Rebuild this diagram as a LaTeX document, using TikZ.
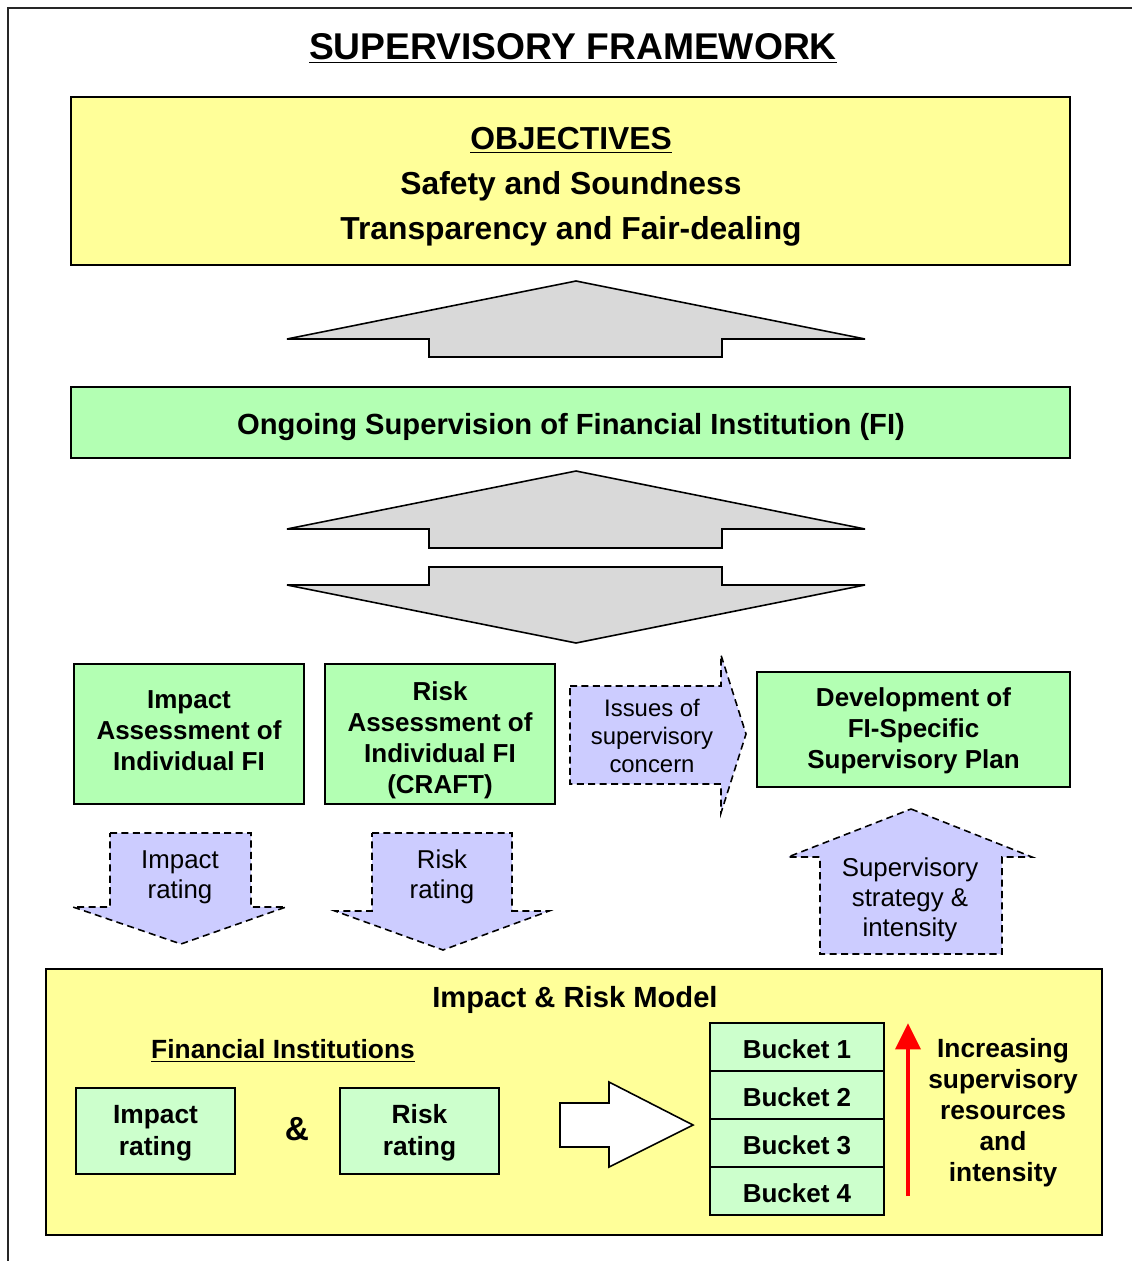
\documentclass[tikz,border=0pt]{standalone}
\usepackage{fontspec}
\setmainfont{Liberation Sans}
\usetikzlibrary{arrows.meta}

\definecolor{objyellow}{RGB}{255,255,153}
\definecolor{ongreen}{RGB}{179,255,179}
\definecolor{palegreen}{RGB}{204,255,204}
\definecolor{lavender}{RGB}{204,204,255}
\definecolor{arrowgray}{RGB}{217,217,217}

\tikzset{
  plainbox/.style={draw, line width=1pt, inner sep=0pt, align=center},
  bigarrow/.style={draw, fill=arrowgray, line width=0.9pt, line join=miter},
  ratingarrow/.style={draw, fill=lavender, line width=0.9pt, dash pattern=on 4pt off 2.5pt},
  boxfont/.style={font=\fontsize{14.8}{17.6}\selectfont\bfseries, align=center},
  ratingfont/.style={font=\fontsize{14.7}{17.2}\selectfont, align=center},
}

\begin{document}
\begin{tikzpicture}[x=0.02cm,y=-0.02cm]
\useasboundingbox (0,0) rectangle (1132,1261);

\draw[line width=1.2pt,black!85] (8,1261) -- (8,8) -- (1132,8);

\node[font=\fontsize{21.2}{24}\selectfont\bfseries] (title) at (573,48) {\underline{SUPERVISORY FRAMEWORK}};

% objectives and ongoing supervision
\node[plainbox, fill=objyellow, minimum width=19.98cm, minimum height=3.36cm] (objectives) at (570.5,181) {};
\node[font=\fontsize{18.1}{25.5}\selectfont\bfseries, align=center] (objtext) at (571,187)
      {\underline{OBJECTIVES}\\ Safety and Soundness\\ Transparency and Fair-dealing};

\draw[bigarrow] (576,281) -- (865,339) -- (722,339) -- (722,357) -- (429,357) -- (429,339) -- (287,339) -- cycle;

\node[plainbox, fill=ongreen, minimum width=19.98cm, minimum height=1.42cm] (ongoing) at (570.5,422.5) {};
\node[font=\fontsize{16.6}{20}\selectfont\bfseries] (ongoingtext) at (571,427)
      {Ongoing Supervision of Financial Institution (FI)};

\draw[bigarrow] (576,471) -- (865,529) -- (722,529) -- (722,548) -- (429,548) -- (429,529) -- (287,529) -- cycle;
\draw[bigarrow] (429,567) -- (722,567) -- (722,585) -- (865,585) -- (576,643) -- (287,585) -- (429,585) -- cycle;

% assessments
\node[plainbox, fill=ongreen, minimum width=4.6cm, minimum height=2.8cm] (impactassess) at (189,734) {};
\node[boxfont] (impacttext) at (189,731) {Impact\\ Assessment of\\ Individual FI};
\node[plainbox, fill=ongreen, minimum width=4.6cm, minimum height=2.8cm] (riskassess) at (440,734) {};
\node[boxfont] (risktext) at (440,740) {Risk\\ Assessment of\\ Individual FI\\ (CRAFT)};
\node[plainbox, fill=ongreen, minimum width=6.26cm, minimum height=2.3cm] (devplan) at (913.5,729.5) {};
\node[boxfont] (devtext) at (913.5,731) {Development of\\ FI-Specific\\ Supervisory Plan};

\draw[ratingarrow] (570,686) -- (721,686) -- (721,655) -- (746,734) -- (721,813) -- (721,784) -- (570,784) -- cycle;
\node[font=\fontsize{13.6}{15.8}\selectfont, align=center] (issues) at (652,736) {Issues of\\ supervisory\\ concern};

% ratings
\draw[ratingarrow] (110,833) -- (251,833) -- (251,907) -- (286,907) -- (181,944) -- (73,907) -- (110,907) -- cycle;
\node[ratingfont] (impactarrow) at (180,877) {Impact\\ rating};
\draw[ratingarrow] (372,833) -- (512,833) -- (512,911) -- (549,911) -- (443,950) -- (335,911) -- (372,911) -- cycle;
\node[ratingfont] (riskarrow) at (442,877) {Risk\\ rating};
\draw[ratingarrow] (911,809) -- (1032,857) -- (1002,857) -- (1002,954) -- (820,954) -- (820,857) -- (788,857) -- cycle;
\node[ratingfont] (strategy) at (910,900) {Supervisory\\ strategy \&\\ intensity};

% impact and risk model
\node[plainbox, fill=objyellow, minimum width=21.12cm, minimum height=5.32cm] (model) at (574,1102) {};
\node[font=\fontsize{16.6}{20}\selectfont\bfseries] (modeltitle) at (575,1000) {Impact \& Risk Model};
\node[font=\fontsize{15}{18}\selectfont\bfseries] (fis) at (283,1051) {\underline{Financial Institutions}};

\node[plainbox, fill=palegreen, minimum width=3.18cm, minimum height=1.72cm] (impactrating) at (155.5,1131) {};
\node[boxfont, font=\fontsize{15}{18}\selectfont\bfseries] (irtext) at (155.5,1133) {Impact\\ rating};
\node[font=\fontsize{19}{19}\selectfont\bfseries] (amp) at (297,1129) {\&};
\node[plainbox, fill=palegreen, minimum width=3.18cm, minimum height=1.72cm] (riskrating) at (419.5,1131) {};
\node[boxfont, font=\fontsize{15}{18}\selectfont\bfseries] (rrtext) at (419.5,1133) {Risk\\ rating};

\draw[line width=0.9pt, fill=white] (560,1103) -- (609,1103) -- (609,1082) -- (693,1125) -- (609,1167) -- (609,1147) -- (560,1147) -- cycle;

\foreach \i in {1,...,4}
  \node[plainbox, fill=palegreen, minimum width=3.48cm, minimum height=0.96cm, boxfont,
        text height=12.8pt, text depth=0pt] (bucket\i) at (797,{999+48*\i}) {Bucket \i};

\coordinate (redlow) at (908,1196);
\coordinate (redtop) at (908,1023);
\draw[red, line width=2.8pt, -{Triangle[width=14pt,length=15pt]}] (redlow) -- (redtop);

\node[font=\fontsize{15}{17.6}\selectfont\bfseries, align=center] (increasing) at (1003,1113)
      {Increasing\\ supervisory\\ resources\\ and\\ intensity};

\end{tikzpicture}
\end{document}
